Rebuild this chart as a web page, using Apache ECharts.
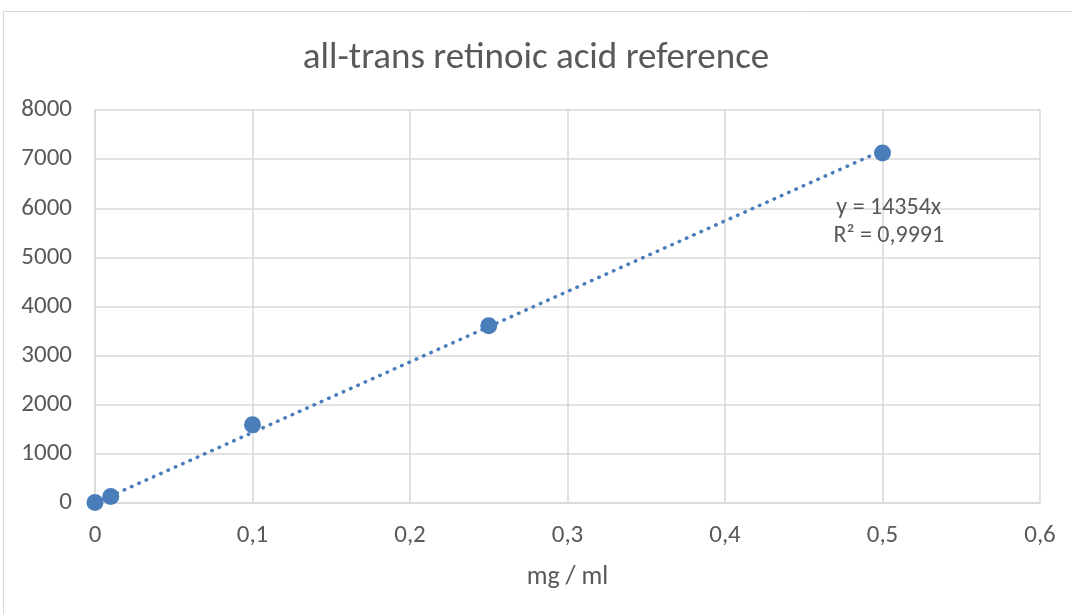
<!DOCTYPE html>
<html>
<head>
<meta charset="utf-8">
<script src="https://cdn.jsdelivr.net/npm/echarts@6/dist/echarts.min.js"></script>
<style>
  html, body { margin: 0; padding: 0; background: #fff; }
  #chart { width: 1072px; height: 614px; }
</style>
</head>
<body>
<div id="chart"></div>
<script>
// Calibration points: concentration (mg / ml) vs. detector response
const concentrations = [0, 0.01, 0.1, 0.25, 0.5];
const responses = [10, 130, 1595, 3610, 7125];

// Linear fit through the origin, as reported in the equation label
const slope = 14354;
const rSquared = '0,9991';
const trendX = [0, 0.5];

const xTicks = { min: 0, max: 0.6, interval: 0.1 };
const yTicks = { min: 0, max: 8000, interval: 1000 };

const FONT = 'Carlito, Calibri, "Open Sans", sans-serif';
const TEXT = '#595959';
const GRID = '#d9d9d9';
const BLUE = '#4a7ebb';

const fmtComma = v => String(+(+v).toFixed(2)).replace('.', ',');

const chart = echarts.init(document.getElementById('chart'));
chart.setOption({
  animation: false,
  backgroundColor: '#fff',
  title: {
    text: 'all-trans retinoic acid reference',
    left: 'center',
    top: 35,
    textStyle: { fontFamily: FONT, fontSize: 37, fontWeight: 'normal', color: TEXT }
  },
  graphic: [{
    type: 'rect',
    shape: { x: 3.5, y: 11.5, width: 1200, height: 800 },
    style: { fill: 'none', stroke: GRID, lineWidth: 1 },
    silent: true, z: -10
  }],
  grid: { left: 95, right: 32, top: 110, bottom: 111 },
  xAxis: {
    type: 'value',
    min: xTicks.min, max: xTicks.max, interval: xTicks.interval,
    name: 'mg / ml',
    nameLocation: 'middle',
    nameGap: 61,
    nameTextStyle: { fontFamily: FONT, fontSize: 26, color: TEXT },
    axisLine: { show: true, lineStyle: { color: GRID, width: 1.5 } },
    axisTick: { show: false },
    splitLine: { show: true, lineStyle: { color: GRID, width: 1.5 } },
    axisLabel: { formatter: fmtComma, margin: 20, fontFamily: FONT, fontSize: 25, color: TEXT }
  },
  yAxis: {
    type: 'value',
    min: yTicks.min, max: yTicks.max, interval: yTicks.interval,
    axisLine: { show: true, lineStyle: { color: GRID, width: 1.5 } },
    axisTick: { show: false },
    splitLine: { show: true, lineStyle: { color: GRID, width: 1.5 } },
    axisLabel: { formatter: v => String(v), margin: 23, fontFamily: FONT, fontSize: 25, color: TEXT }
  },
  series: [
    {
      type: 'line',
      name: 'Trend',
      data: trendX.map(x => [x, slope * x]),
      showSymbol: false,
      symbol: 'none',
      lineStyle: { color: BLUE, width: 3.5, type: [0.5, 7.5], cap: 'round' },
      z: 2,
      markPoint: {
        symbol: 'circle',
        symbolSize: 0,
        data: [{
          coord: [0.504, 5720],
          value: 'y = ' + slope + 'x\nR² = ' + rSquared
        }],
        label: {
          show: true,
          formatter: p => p.value,
          fontFamily: FONT, fontSize: 24, color: TEXT,
          lineHeight: 28, align: 'center'
        }
      }
    },
    {
      type: 'scatter',
      name: 'Standards',
      data: concentrations.map((c, i) => [c, responses[i]]),
      symbol: 'circle',
      symbolSize: 17,
      itemStyle: { color: BLUE, opacity: 1 },
      z: 3
    }
  ]
});
</script>
</body>
</html>
